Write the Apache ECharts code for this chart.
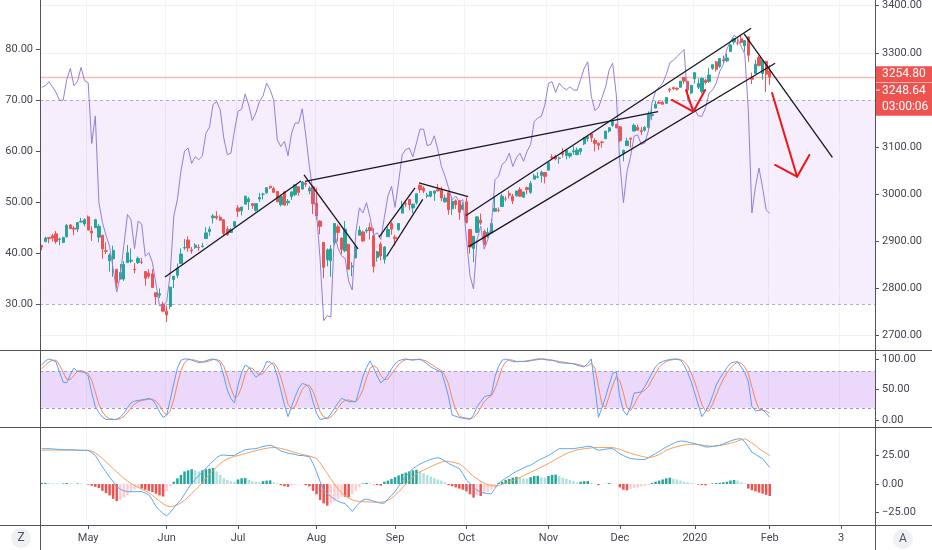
<!DOCTYPE html>
<html>
<head>
<meta charset="utf-8">
<script src="https://cdn.jsdelivr.net/npm/echarts@6/dist/echarts.min.js"></script>
<style>html,body{margin:0;padding:0;background:#fff}#chart{width:932px;height:550px}</style>
</head>
<body>
<div id="chart"></div>
<script>
// ---------- categories (trading days) ----------
const dates = [
'2019-04-11','2019-04-12','2019-04-15','2019-04-16','2019-04-17','2019-04-18','2019-04-22','2019-04-23','2019-04-24','2019-04-25','2019-04-26','2019-04-29','2019-04-30',
'2019-05-01','2019-05-02','2019-05-03','2019-05-06','2019-05-07','2019-05-08','2019-05-09','2019-05-10','2019-05-13','2019-05-14','2019-05-15','2019-05-16','2019-05-17','2019-05-20','2019-05-21','2019-05-22','2019-05-23','2019-05-24','2019-05-28','2019-05-29','2019-05-30','2019-05-31',
'2019-06-03','2019-06-04','2019-06-05','2019-06-06','2019-06-07','2019-06-10','2019-06-11','2019-06-12','2019-06-13','2019-06-14','2019-06-17','2019-06-18','2019-06-19','2019-06-20','2019-06-21','2019-06-24','2019-06-25','2019-06-26','2019-06-27','2019-06-28',
'2019-07-01','2019-07-02','2019-07-03','2019-07-05','2019-07-08','2019-07-09','2019-07-10','2019-07-11','2019-07-12','2019-07-15','2019-07-16','2019-07-17','2019-07-18','2019-07-19','2019-07-22','2019-07-23','2019-07-24','2019-07-25','2019-07-26','2019-07-29','2019-07-30','2019-07-31',
'2019-08-01','2019-08-02','2019-08-05','2019-08-06','2019-08-07','2019-08-08','2019-08-09','2019-08-12','2019-08-13','2019-08-14','2019-08-15','2019-08-16','2019-08-19','2019-08-20','2019-08-21','2019-08-22','2019-08-23','2019-08-26','2019-08-27','2019-08-28','2019-08-29','2019-08-30',
'2019-09-03','2019-09-04','2019-09-05','2019-09-06','2019-09-09','2019-09-10','2019-09-11','2019-09-12','2019-09-13','2019-09-16','2019-09-17','2019-09-18','2019-09-19','2019-09-20','2019-09-23','2019-09-24','2019-09-25','2019-09-26','2019-09-27','2019-09-30',
'2019-10-01','2019-10-02','2019-10-03','2019-10-04','2019-10-07','2019-10-08','2019-10-09','2019-10-10','2019-10-11','2019-10-14','2019-10-15','2019-10-16','2019-10-17','2019-10-18','2019-10-21','2019-10-22','2019-10-23','2019-10-24','2019-10-25','2019-10-28','2019-10-29','2019-10-30','2019-10-31',
'2019-11-01','2019-11-04','2019-11-05','2019-11-06','2019-11-07','2019-11-08','2019-11-11','2019-11-12','2019-11-13','2019-11-14','2019-11-15','2019-11-18','2019-11-19','2019-11-20','2019-11-21','2019-11-22','2019-11-25','2019-11-26','2019-11-27','2019-11-29',
'2019-12-02','2019-12-03','2019-12-04','2019-12-05','2019-12-06','2019-12-09','2019-12-10','2019-12-11','2019-12-12','2019-12-13','2019-12-16','2019-12-17','2019-12-18','2019-12-19','2019-12-20','2019-12-23','2019-12-24','2019-12-26','2019-12-27','2019-12-30','2019-12-31',
'2020-01-02','2020-01-03','2020-01-06','2020-01-07','2020-01-08','2020-01-09','2020-01-10','2020-01-13','2020-01-14','2020-01-15','2020-01-16','2020-01-17','2020-01-21','2020-01-22','2020-01-23','2020-01-24','2020-01-27','2020-01-28','2020-01-29','2020-01-30','2020-01-31',
'2020-02-03','2020-02-04','2020-02-05','2020-02-06','2020-02-07','2020-02-10','2020-02-11','2020-02-12','2020-02-13','2020-02-14','2020-02-18','2020-02-19','2020-02-20','2020-02-21','2020-02-24','2020-02-25','2020-02-26','2020-02-27','2020-02-28',
'2020-03-02','2020-03-03','2020-03-04','2020-03-05','2020-03-06','2020-03-09','2020-03-10','2020-03-11','2020-03-12','2020-03-13','2020-03-16'
];
const tickDates  = ['2019-05-01','2019-06-03','2019-07-01','2019-08-01','2019-09-03','2019-10-01','2019-11-01','2019-12-02','2020-01-02','2020-02-03','2020-03-03'];
const tickLabels = ['May','Jun','Jul','Aug','Sep','Oct','Nov','Dec','2020','Feb','3'];

// ---------- price candles [open, high, low, close] ----------
const ohlc = [
[2891,2893,2881,2888],[2900,2910,2898,2907],[2908,2909,2896,2906],[2912,2916,2900,2907],[2916,2922,2895,2900],[2904,2908,2892,2905],[2898,2910,2896,2908],[2910,2937,2908,2934],[2935,2936,2926,2927],[2928,2933,2913,2926],
[2926,2940,2920,2940],[2941,2950,2940,2943],[2937,2949,2932,2946],[2952,2955,2924,2924],[2922,2932,2901,2918],[2929,2948,2929,2946],[2909,2937,2898,2932],[2913,2913,2863,2884],[2880,2898,2873,2879],[2859,2875,2836,2871],
[2863,2891,2825,2881],[2841,2841,2801,2812],[2820,2852,2820,2834],[2820,2858,2816,2851],[2855,2892,2855,2876],[2858,2885,2854,2860],[2841,2854,2832,2840],[2855,2868,2852,2864],[2856,2865,2852,2856],[2836,2836,2806,2822],
[2833,2841,2821,2826],[2831,2841,2802,2802],[2791,2792,2767,2783],[2786,2800,2780,2789],[2767,2772,2751,2752],[2752,2764,2729,2744],[2762,2804,2756,2803],[2819,2827,2801,2826],[2828,2853,2822,2843],[2853,2885,2852,2873],
[2886,2905,2882,2887],[2903,2911,2878,2886],[2882,2888,2874,2880],[2887,2896,2884,2892],[2887,2894,2880,2887],[2889,2897,2887,2890],[2906,2930,2905,2918],[2921,2932,2912,2926],[2950,2958,2938,2954],[2953,2964,2946,2950],
[2951,2955,2944,2945],[2946,2947,2911,2917],[2926,2932,2912,2914],[2919,2929,2918,2925],[2932,2943,2930,2942],[2971,2977,2952,2964],[2965,2973,2955,2973],[2979,2996,2979,2996],[2984,2994,2967,2990],[2980,2981,2969,2976],
[2966,2981,2963,2980],[2990,3003,2984,2993],[3000,3003,2989,3000],[3003,3014,3001,3014],[3017,3018,3011,3014],[3012,3016,3003,3004],[3006,3006,2984,2984],[2978,2999,2974,2995],[3005,3007,2976,2977],[2982,2990,2976,2985],
[2995,3006,2988,3005],[2999,3020,2996,3020],[3016,3017,2997,3004],[3011,3028,3010,3026],[3024,3025,3015,3021],[3007,3017,3000,3013],[3016,3017,2958,2980],[2981,3014,2946,2954],[2943,2945,2915,2932],[2898,2898,2822,2845],
[2861,2885,2847,2882],[2859,2892,2825,2884],[2897,2939,2891,2938],[2931,2936,2900,2919],[2907,2908,2873,2883],[2880,2943,2877,2926],[2894,2894,2840,2841],[2846,2856,2826,2848],[2865,2893,2865,2889],[2913,2932,2913,2924],
[2920,2923,2899,2901],[2922,2929,2917,2924],[2930,2940,2904,2923],[2912,2928,2834,2847],[2866,2880,2857,2878],[2894,2899,2860,2869],[2862,2890,2853,2888],[2910,2930,2910,2925],[2938,2941,2914,2926],[2909,2914,2891,2906],
[2925,2939,2922,2938],[2960,2986,2960,2976],[2980,2985,2973,2979],[2989,2990,2966,2978],[2971,2980,2960,2979],[2982,3001,2978,3001],[3019,3021,3003,3010],[3013,3017,3002,3007],[2996,3003,2992,2998],[2996,3006,2993,3006],
[3002,3008,2986,3007],[3010,3022,3006,3007],[3009,3016,2985,2992],[2984,2999,2982,2992],[3003,3008,2957,2967],[2969,2990,2956,2985],[2986,2989,2969,2978],[2986,2988,2946,2962],[2968,2983,2968,2977],[2984,2993,2938,2940],
[2925,2925,2874,2888],[2885,2911,2856,2911],[2919,2953,2918,2952],[2945,2959,2935,2939],[2921,2925,2892,2893],[2911,2929,2907,2919],[2918,2948,2917,2938],[2964,2994,2964,2970],[2966,2972,2962,2966],[2974,3001,2974,2996],
[2990,2996,2985,2990],[3001,3008,2991,2998],[2996,3001,2979,2986],[2997,3007,2995,3007],[3010,3015,2995,2996],[2994,3005,2992,3005],[3014,3016,3000,3010],[3004,3028,3001,3023],[3032,3044,3032,3039],[3036,3047,3034,3037],
[3040,3050,3025,3047],[3046,3047,3023,3038],[3051,3067,3051,3067],[3079,3085,3074,3078],[3080,3084,3072,3075],[3076,3080,3065,3077],[3088,3098,3078,3085],[3082,3094,3074,3093],[3081,3088,3077,3087],[3090,3102,3084,3092],
[3084,3099,3083,3094],[3091,3098,3084,3097],[3107,3121,3104,3120],[3118,3125,3112,3122],[3128,3128,3111,3120],[3114,3119,3091,3108],[3108,3110,3094,3104],[3111,3112,3099,3110],[3118,3134,3117,3134],[3134,3142,3131,3141],
[3146,3155,3143,3154],[3148,3150,3140,3141],[3143,3145,3110,3114],[3087,3095,3070,3093],[3103,3120,3103,3113],[3119,3120,3099,3117],[3134,3150,3134,3146],[3142,3148,3135,3136],[3135,3143,3126,3133],[3136,3144,3133,3142],
[3142,3176,3138,3169],[3167,3183,3158,3169],[3183,3198,3182,3191],[3195,3198,3191,3193],[3195,3199,3191,3191],[3193,3206,3192,3205],[3223,3226,3216,3221],[3226,3228,3221,3224],[3225,3226,3220,3223],[3227,3240,3227,3240],
[3248,3248,3234,3240],[3240,3240,3216,3221],[3215,3232,3212,3231],[3245,3258,3235,3258],[3227,3246,3223,3235],[3218,3247,3214,3246],[3242,3245,3233,3237],[3239,3268,3236,3253],[3267,3275,3264,3275],[3281,3283,3260,3265],
[3271,3288,3268,3288],[3285,3294,3278,3283],[3283,3299,3281,3289],[3303,3317,3302,3317],[3323,3330,3318,3330],[3321,3330,3316,3321],[3330,3338,3320,3322],[3315,3327,3302,3326],[3334,3334,3281,3295],[3247,3258,3234,3244],
[3256,3285,3255,3276],[3290,3294,3271,3273],[3256,3286,3243,3284],[3282,3283,3217,3254.8],[3262,3274,3232,3248.64]
];

// ---------- overlay line on left scale ----------
const rsi = [
72.5,72.8,73.6,72.6,71.5,69.9,70,74,76.2,72.8,
73.6,76.4,73.8,73.4,61.5,66.9,50,46,43.5,41.4,
37,32.4,35.6,41.5,47.6,46.6,40.9,46.3,45.7,39.4,
40.1,38.2,34,29.7,29.7,30.5,36,47.3,50.5,56.1,
60,60.6,57.6,58.9,58.3,59.1,63.5,64.7,69.1,69.7,
68.1,62.6,59.3,59.6,64,67.8,68.2,71.2,69,66,
67.5,69.7,70.8,73.3,72,70,62.2,60.9,61.9,59.1,
63.5,65.5,65.5,68.3,63,57,52,47.9,38.8,26.8,
27.8,27.5,44,41,39.5,39,34.5,32.8,44,48.9,
47.9,49.9,47,43.5,44,42.7,47,51.2,53.1,49,
54,59.3,60.3,60.6,58.9,61.6,64.3,64.3,61.1,61.3,
63,60.3,57,55.1,52.8,50.5,51.2,50,50.5,43,
35.6,33,42.7,45.3,40.8,42.7,45.3,54.4,55.1,57.4,
58,59.6,57,58.7,59.6,58,60,61.3,65.8,66.5,
66.8,69.1,73.3,73.6,71.5,73.3,72.5,72,72.6,72,
71.9,74,76.2,77.5,70.7,68,68.5,70.5,72.6,75.9,
77.2,71,57.7,49.9,56,59,62.9,63.2,61.3,61.6,
64,69.4,71.7,72.6,73.3,75,77.3,77.8,78.5,79.2,
79.9,70,69,68.1,66.9,66.8,68.5,71.4,72,73.3,
75.6,77,80,81.5,82.7,82.1,80.5,79,68,47.9,
53,56.7,52.8,48.5,47.8
];

// ---------- stochastic ----------
const stochK = [
90,97,100,98,95,78,62,61,74,85,
80,79,78,72,45,22,12,5,1,1,
1,1,5,11,20,28,31,32,33,34,
35.5,33,25,13,4.4,8,33,60,85,98,
100,100,98,96,94,95,97,99,100,98,
93,72,49,35,28,57,78,90,87,78,
70,75,82,95.6,95,90,72,49,25,5.5,
22,38,52,60,58,52,30,11,1,2,
3,10,19,28,35.5,33,30,30,30,50,
71,86,97,85,72,61,66,74,84,92,
97,99,100,99,98,99,100,96,92,87,
84,81,79,60,38,8,6,4,3,2,
1,8,22,30,38,40,41,71,88,98,
100,98,95.6,95.5,96,96,97,98,99,100,
100,99,98,98,96,94,93.5,93,92.5,92,
90,88,87,93,100,55,4.4,20,38,58,
76.5,79,38,15,8,22,44,45,46,55,
65.5,77,87,93,96,98,99,100,99.5,98,
90,78,63,44,24.6,5.5,14,24.6,40,57,
68,76.5,86,93,95,95.6,87,78,63,22,
15,16,17,11,4.4
];
const stochD = [
84,90,95,98,98,90,78,67,66,73,
80,81,79,76,65,46,26,13,6,2,
1,1,2,6,12,20,26,30,32,33,
34,34,31,24,14,8,15,34,59,81,
94,99,99,98,96,95,95,97,99,99,
97,88,71,52,37,40,54,75,85,85,
78,74,76,84,91,94,86,70,49,26,
18,22,37,50,57,57,47,31,14,5,
2,5,11,19,28,32,33,31,30,37,
50,69,85,89,85,73,66,67,75,83,
91,96,99,99,99,99,99,98,96,92,
88,84,81,73,59,35,17,6,4,3,
2,4,10,20,30,36,40,51,67,86,
95,99,98,96,96,96,96,97,98,99,
100,100,99,98,97,96,95,94,93,92.5,
91.5,90,88,89,93,85,55,25,21,39,
57,71,64,44,20,15,25,37,45,49,
55,66,76,86,92,96,98,99,100,99,
96,89,77,62,44,25,15,15,26,41,
55,67,77,85,91,95,93,87,76,54,
33,18,16,15,11
];

// ---------- MACD ----------
const macdLine = [
31,31,31,30.8,30.5,30.3,30,30,30,29.8,
29.7,29.6,29.5,29.5,27.5,25,20,15,10.7,6,
2,-2.3,-4.5,-6,-6.7,-6.8,-6.7,-6.7,-6.7,-8,
-9.6,-14,-19.7,-23,-26,-27.8,-25,-21,-17,-13.9,
-9,-4,0.6,4,7.5,10.5,13.6,17,20,23,
25,25.5,25,25,25,27,28.5,30,30.5,30.8,
31,32,33,33.5,34,33,31,29,28,27,
26.5,26,25,25,24.5,24,18,10.7,2,-5.2,
-8.5,-11,-13.3,-15,-16.5,-17,-20.5,-24,-20,-16.5,
-14,-13.3,-14,-15,-16,-16.8,-16.8,-13,-10,-6.7,
-2,2.5,6.5,10,13.6,15.5,17.5,19,20.5,21.5,
22.5,23,22,20,18,16.5,15,13.6,9,3.5,
0.6,-3,-5.5,-7,-8,-8.5,-8.5,-4,0.6,3,
5,7,9.3,11,12.5,14,15.5,16.5,18.5,20.5,
22,23.5,25,27,29,31,31,31,31,31,
31.5,32,32.5,33,33,31,29.6,30,30.5,31,
31,29,26.5,25,23.5,22.3,22,21.7,21.5,21.4,
23,25,26.7,28.5,30.5,32.5,34,35.5,37,37.7,
37.5,36.8,36,35.4,34.5,33.5,32.5,32.5,33,33.5,
34,35.3,36.5,37.8,38.8,39.5,39.7,37,32.5,28,
26,24,22.3,18.5,14.5
];
const signalLine = [
29.5,29.6,29.7,29.8,29.8,29.8,29.8,29.7,29.7,29.7,
29.6,29.6,29.5,29.5,28.8,27.3,25,22.5,19.5,16.5,
13.5,10.7,7.8,5,2.6,0.5,-1.4,-3,-4.5,-6,
-7.8,-10,-12.5,-15,-17.3,-19,-19.7,-19.3,-18.2,-16.5,
-14.2,-11.5,-8.5,-5.5,-2.3,1.3,5,8.5,11.8,15,
18,20.3,22,23.2,24.2,25,25.8,26.7,27.6,28.4,
29.2,30,30.7,31.3,31.8,32,31.8,31.2,30.4,29.5,
28.6,27.6,26.7,25.9,25.2,24.5,23.6,22.3,18.5,14,
9.3,4.5,0,-4.2,-8,-10.5,-12.3,-13.9,-14.8,-15.3,
-15.5,-15.6,-15.8,-16,-16.1,-16,-15.5,-14.3,-12.5,-10,
-7,-3.5,0,3.5,6.3,8.6,10.6,12.2,13.6,15.2,
16.7,18,19.2,20,19.8,19.2,18.5,17.6,15.5,12.5,
9.5,6.7,4.5,2.5,0.8,-0.5,-1.4,-1.8,-1.4,-0.3,
0.8,2,3.2,4.4,5.8,7.3,8.8,10.3,11.8,13.3,
14.8,16.4,18,19.8,21.6,23.4,25,26.6,28,29,
29.8,30.4,30.9,31.3,31.7,32,32,32,32,32,
32,31.2,30.3,29.2,28,27,26,25.2,24.4,23.7,
23.2,23.6,24.6,25.8,27.5,29.6,30.8,31.9,32.8,33.6,
34.2,34.6,34.8,34.8,34.6,34.2,33.8,33.4,33,33.3,
33.7,34.3,35,35.7,36.5,37.6,38.8,39.7,38,36,
34,31,29,27,25
];
const histogram = [
1,1,0.8,0.6,0.4,0.3,0.5,0.8,0.6,0.2,
0.5,0.4,0.1,-0.5,-1.5,-2.5,-3.5,-6,-8,-10,
-13,-15,-14,-12,-10,-7,-5,-3,-4,-5,
-6,-7,-8.5,-10,-11,-6,-2,2,5,8,
11,12,13,12,11,12,13,13.5,14,11,
8,5,3.5,2.5,2,4,5,5.2,3.5,2.5,
2,1.5,2.5,3,3.2,1.5,0.8,-1,-2,-2.5,
-1.5,-1,-0.5,-0.3,-1,-2,-6,-9,-14,-17,
-19,-17,-15,-13,-11,-11.2,-11.5,-9,-6,-3,
0.5,1,0.5,-0.3,-1,-1.5,2,3,4.5,6,
7.5,9,10,11,12,12.5,11,9.5,8,6.5,
5,4,3,1.5,-1,-2,-3,-4,-5,-6.5,
-9,-12,-10,-10.5,-8,-7,-5,-3,1,2,
3.5,4.5,5.5,6.3,5.5,5,4.8,6,7,7.2,
6,5.5,7,8,8.2,7,5.5,4.5,3.5,2.5,
1.5,2,2.5,2.6,1,0.3,-1,-0.3,0.2,0.8,
0.5,0.2,-3,-5,-5.5,-4.5,-3.5,-3,-2,-1.5,
-0.8,1,2,3,4,5,5.5,4.5,4,3,
2,1.5,1,0.3,-0.5,-1,-1.2,-0.5,0.5,0.8,
1,1.5,2,3,3.5,3,1.5,0.5,-4,-5.5,
-6.5,-7.5,-8.5,-9.5,-10.5
];

// ---------- axis ticks / reference levels ----------
const rsiTicks = [30,40,50,60,70,80];
const priceTicks = [2700,2800,2900,3000,3100,3200,3300,3400];
const stochTicks = [0,50,100];
const macdTicks = [-25,0,25];
const rsiBand = [30,70];
const stochBand = [20,80];
const lastPrice = 3248.64;
const markPrice = 3254.80;
const countdown = '03:00:06';

// ---------- hand-drawn annotations: [barIndex, price] ----------
const trendLines = [
  [[34.53,2824.5],[72.65,3028.1]],
  [[73.49,3040.9],[88.63,2883.9]],
  [[73.77,3027.1],[172.71,3175.1]],
  [[94.51,2909.3],[104.6,3013.3]],
  [[96.61,2868.0],[106.76,2989.3]],
  [[105.72,3023.9],[119.46,2994.8]],
  [[118.89,2954.9],[198.77,3352.1]],
  [[119.6,2888.8],[205.5,3277.8]],
  [[196.81,3340.0],[221.56,3078.4]]
];
const redArrows = [
  [[180.55,3221.0],[182.6,3175.1]],
  [[176.55,3200.0],[182.6,3175.1],[185.88,3221.2]],
  [[204.66,3214.8],[211.66,3037.3]],
  [[205.5,3062.1],[211.66,3037.3],[215.11,3083.3]]
];

// ---------- chart ----------
const AX = '#50535e', TXT = '#434651', FONT = 'Roboto';
const N = dates.length;
const tickSet = new Set(tickDates);
const isTick = (i, v) => tickSet.has(v);

function catAxis(gi, labels) {
  return {
    type: 'category', gridIndex: gi, data: dates, boundaryGap: true, position: 'bottom',
    axisLine: {show: false, onZero: false},
    axisTick: {show: labels, interval: isTick, alignWithLabel: true, length: 4, lineStyle: {color: AX}},
    axisLabel: {show: labels, interval: isTick, formatter: v => tickLabels[tickDates.indexOf(v)] || '',
      color: TXT, fontSize: 11, fontFamily: FONT, margin: 8},
    splitLine: {show: true, interval: isTick, lineStyle: {color: '#f0f3fa', width: 1}}
  };
}
function valAxis(gi, pos, min, max, ticks, fmt) {
  return {
    type: 'value', gridIndex: gi, position: pos, min: min, max: max,
    axisLine: {show: false, onZero: false},
    axisTick: {show: true, length: 4, customValues: ticks, lineStyle: {color: AX}},
    axisLabel: {customValues: ticks, formatter: fmt, color: TXT, fontSize: 11, fontFamily: FONT, margin: 7},
    splitLine: {show: false}
  };
}
const f2 = v => (v < 0 ? '\u2212' : '') + Math.abs(v).toFixed(2);

const candleData = ohlc.map(r => [r[0], r[3], r[2], r[1]]);
const histData = histogram.map((v, i) => {
  const p = i > 0 ? histogram[i - 1] : 0;
  let c;
  if (v >= 0) c = v >= p ? '#26a69a' : '#b2dfdb';
  else c = v < p ? '#ef5350' : '#ffcdd2';
  return {value: v, itemStyle: {color: c}};
});

const series = [
  {
    type: 'candlestick', name: 'Price', xAxisIndex: 0, yAxisIndex: 1, data: candleData,
    barWidth: '78%', z: 3,
    itemStyle: {color: '#26a69a', color0: '#ef5350', borderColor: '#26a69a', borderColor0: '#ef5350', borderWidth: 1},
    markLine: {
      silent: true, symbol: ['none', 'none'], z: 1, animation: false, label: {show: false},
      data: priceTicks.map(v => ({yAxis: v, lineStyle: {color: '#eef0f5', width: 1, type: 'solid'}}))
        .concat([{yAxis: lastPrice, lineStyle: {color: '#f7baba', width: 1.3, type: 'solid'}}])
    }
  },
  {
    type: 'line', name: 'RSI', xAxisIndex: 0, yAxisIndex: 0, data: rsi, symbol: 'none', showSymbol: false,
    lineStyle: {color: '#9280d8', width: 1}, z: 4, silent: true,
    markArea: {silent: true, z: 1, itemStyle: {color: 'rgba(153,60,235,0.09)'},
      data: [[{yAxis: rsiBand[0]}, {yAxis: rsiBand[1]}]]},
    markLine: {silent: true, symbol: ['none', 'none'], z: 1, label: {show: false}, animation: false,
      lineStyle: {color: '#b4aac6', type: [3, 3], width: 1},
      data: [{yAxis: rsiBand[0]}, {yAxis: rsiBand[1]}]}
  },
  {
    type: 'line', name: '%K', xAxisIndex: 1, yAxisIndex: 2, data: stochK, symbol: 'none', showSymbol: false,
    lineStyle: {color: '#5b9ef2', width: 1}, z: 4, silent: true,
    markArea: {silent: true, z: 1, itemStyle: {color: 'rgba(153,60,235,0.2)'},
      data: [[{yAxis: stochBand[0]}, {yAxis: stochBand[1]}]]},
    markLine: {silent: true, symbol: ['none', 'none'], z: 1, label: {show: false}, animation: false,
      lineStyle: {color: '#a596bb', type: [3, 3], width: 1},
      data: [{yAxis: stochBand[0]}, {yAxis: stochBand[1]}]}
  },
  {
    type: 'line', name: '%D', xAxisIndex: 1, yAxisIndex: 2, data: stochD, symbol: 'none', showSymbol: false,
    lineStyle: {color: '#f2875c', width: 1}, z: 3, silent: true
  },
  {
    type: 'bar', name: 'Histogram', xAxisIndex: 2, yAxisIndex: 3, data: histData, barWidth: '70%', z: 2, silent: true
  },
  {
    type: 'line', name: 'MACD', xAxisIndex: 2, yAxisIndex: 3, data: macdLine, symbol: 'none', showSymbol: false,
    lineStyle: {color: '#5aa8f0', width: 1}, z: 4, silent: true
  },
  {
    type: 'line', name: 'Signal', xAxisIndex: 2, yAxisIndex: 3, data: signalLine, symbol: 'none', showSymbol: false,
    lineStyle: {color: '#f5a05c', width: 1}, z: 3, silent: true
  }
];
trendLines.forEach(seg => series.push({
  type: 'line', xAxisIndex: 3, yAxisIndex: 1, data: seg, symbol: 'none', showSymbol: false, silent: true,
  lineStyle: {color: '#131722', width: 1.3}, z: 6, clip: false
}));
redArrows.forEach(seg => series.push({
  type: 'line', xAxisIndex: 3, yAxisIndex: 1, data: seg, symbol: 'none', showSymbol: false, silent: true,
  lineStyle: {color: '#f01414', width: 2, cap: 'round', join: 'round'}, z: 7, clip: false
}));

const chart = echarts.init(document.getElementById('chart'), null, {renderer: 'canvas', width: 932, height: 550});
chart.setOption({
  animation: false,
  backgroundColor: '#ffffff',
  grid: [
    {left: 40, right: 57, top: 0, height: 350},
    {left: 40, right: 57, top: 351, height: 76},
    {left: 40, right: 57, top: 427, height: 98}
  ],
  xAxis: [
    catAxis(0, false), catAxis(1, false), catAxis(2, true),
    {type: 'value', gridIndex: 0, min: -0.5, max: N - 0.5, show: false}
  ],
  yAxis: [
    valAxis(0, 'left', 21.05, 89.6, rsiTicks, v => v.toFixed(2)),
    valAxis(0, 'right', 2669.6, 3412.1, priceTicks, v => v.toFixed(2)),
    valAxis(1, 'right', -11.48, 113.1, stochTicks, v => v.toFixed(2)),
    valAxis(2, 'right', -35.96, 50, macdTicks, f2)
  ],
  series: series
});

// ---------- frame, price labels, corner buttons ----------
const yMark = chart.convertToPixel({yAxisIndex: 1}, markPrice);
const lbl = (t, y) => ({type: 'text', z: 60, style: {x: 882, y: y, text: t, fill: '#ffffff',
  font: '12px Roboto', textAlign: 'left', verticalAlign: 'middle'}});
const hl = y => ({type: 'line', z: 50, shape: {x1: 0, y1: y, x2: 932, y2: y}, style: {stroke: AX, lineWidth: 1}});
const vl = x => ({type: 'line', z: 50, shape: {x1: x, y1: 0, x2: x, y2: 550}, style: {stroke: AX, lineWidth: 1}});
const btn = (cx, cy, t) => [
  {type: 'circle', z: 50, shape: {cx: cx, cy: cy, r: 10}, style: {fill: '#eef0f4'}},
  {type: 'text', z: 51, style: {x: cx, y: cy, text: t, fill: '#50535e', font: '12px Roboto', textAlign: 'center', verticalAlign: 'middle'}}
];
chart.setOption({
  graphic: [
    hl(350.5), hl(427.5), hl(525.5), vl(40.5), vl(875.5),
    {type: 'rect', z: 55, shape: {x: 876, y: yMark - 8, width: 56, height: 16}, style: {fill: '#ef5350'}},
    {type: 'rect', z: 55, shape: {x: 876, y: yMark + 8.5, width: 56, height: 33}, style: {fill: '#ef5350'}},
    {type: 'line', z: 56, shape: {x1: 876, y1: yMark + 16, x2: 880, y2: yMark + 16}, style: {stroke: '#ffffff', lineWidth: 1}},
    lbl(markPrice.toFixed(2), yMark),
    lbl(lastPrice.toFixed(2), yMark + 16.5),
    lbl(countdown, yMark + 33)
  ].concat(btn(21, 538, 'Z'), btn(903, 539, 'A'))
});
</script>
</body>
</html>
